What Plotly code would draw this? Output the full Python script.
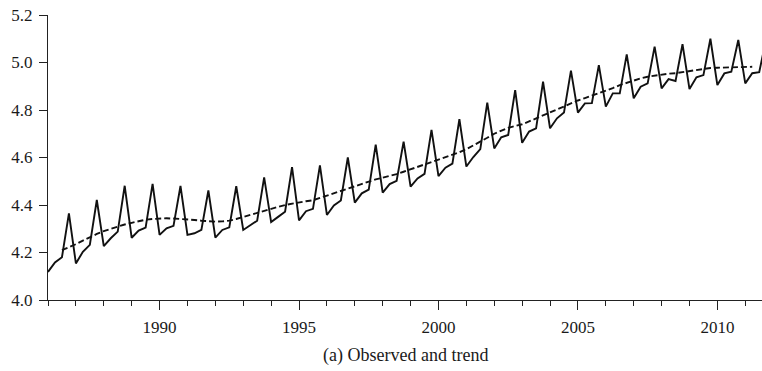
import plotly.graph_objects as go

start_year = 1986
# Observed quarterly series, 1986Q1 .. 2011Q4
observed = [
    4.118, 4.158, 4.180, 4.365,
    4.154, 4.203, 4.232, 4.421,
    4.227, 4.260, 4.288, 4.481,
    4.262, 4.292, 4.305, 4.489,
    4.274, 4.302, 4.312, 4.480,
    4.274, 4.281, 4.295, 4.461,
    4.263, 4.295, 4.306, 4.479,
    4.295, 4.316, 4.334, 4.516,
    4.328, 4.350, 4.372, 4.559,
    4.335, 4.374, 4.384, 4.567,
    4.358, 4.398, 4.419, 4.600,
    4.410, 4.449, 4.465, 4.654,
    4.452, 4.488, 4.502, 4.667,
    4.477, 4.512, 4.531, 4.716,
    4.522, 4.557, 4.574, 4.761,
    4.562, 4.602, 4.635, 4.831,
    4.638, 4.685, 4.695, 4.884,
    4.662, 4.709, 4.723, 4.919,
    4.723, 4.765, 4.789, 4.966,
    4.789, 4.828, 4.829, 4.989,
    4.814, 4.870, 4.870, 5.034,
    4.849, 4.898, 4.912, 5.067,
    4.891, 4.930, 4.922, 5.077,
    4.888, 4.938, 4.947, 5.100,
    4.905, 4.954, 4.961, 5.095,
    4.912, 4.955, 4.959, 5.100,
]
# Trend quarterly series, 1986Q3 .. 2011Q2
trend_start_offset = 2
trend = [
    4.210, 4.222,
    4.235, 4.250, 4.265, 4.278,
    4.290, 4.300, 4.310, 4.318,
    4.325, 4.332, 4.338, 4.341,
    4.343, 4.344, 4.343, 4.342,
    4.340, 4.337, 4.334, 4.331,
    4.330, 4.331, 4.334, 4.341,
    4.350, 4.357, 4.365, 4.374,
    4.383, 4.392, 4.400, 4.406,
    4.412, 4.416, 4.420, 4.430,
    4.440, 4.450, 4.460, 4.470,
    4.480, 4.490, 4.500, 4.508,
    4.515, 4.522, 4.530, 4.540,
    4.550, 4.560, 4.570, 4.580,
    4.590, 4.600, 4.610, 4.622,
    4.635, 4.650, 4.665, 4.683,
    4.700, 4.713, 4.725, 4.733,
    4.740, 4.752, 4.765, 4.778,
    4.790, 4.802, 4.815, 4.828,
    4.840, 4.850, 4.860, 4.870,
    4.880, 4.892, 4.905, 4.915,
    4.925, 4.933, 4.940, 4.945,
    4.950, 4.953, 4.955, 4.960,
    4.965, 4.970, 4.975, 4.977,
    4.978, 4.979, 4.980, 4.981,
    4.982, 4.982,
]
x_ticks = [1990, 1995, 2000, 2005, 2010]
y_ticks = [4.0, 4.2, 4.4, 4.6, 4.8, 5.0, 5.2]
title_text = "(a) Observed and trend"

x_obs = [start_year + i * 0.25 for i in range(len(observed))]
x_trend = [start_year + (i + trend_start_offset) * 0.25 for i in range(len(trend))]

font_family = "'Liberation Serif', 'Times New Roman', 'DejaVu Serif', serif"
axis_color = "#222222"
text_color = "#1a1a1a"

fig = go.Figure()
fig.add_trace(go.Scatter(x=x_obs, y=observed, mode="lines",
                         line=dict(color="#111111", width=1.9), showlegend=False))
fig.add_trace(go.Scatter(x=x_trend, y=trend, mode="lines",
                         line=dict(color="#111111", width=1.9, dash="6px,3px"),
                         showlegend=False))

fig.update_layout(
    width=762, height=371,
    margin=dict(l=48, r=0, t=15, b=71),
    paper_bgcolor="white", plot_bgcolor="white",
    font=dict(family=font_family, size=17, color=text_color),
    xaxis=dict(range=[1986.0, 2011.6], tickmode="array", tickvals=x_ticks,
               ticktext=[str(v) for v in x_ticks],
               showgrid=False, zeroline=False, showline=True, linecolor=axis_color,
               linewidth=1, ticks="outside", ticklen=9, tickcolor=axis_color,
               ticklabelstandoff=3,
               tickfont=dict(family=font_family, size=17, color=text_color),
               minor=dict(dtick=1, tick0=1986, ticks="outside", ticklen=5,
                          tickcolor=axis_color, showgrid=False)),
    yaxis=dict(range=[4.0, 5.2], tickmode="array", tickvals=y_ticks,
               ticktext=[f"{v:.1f}" for v in y_ticks],
               showgrid=False, zeroline=False, showline=True, linecolor=axis_color,
               linewidth=1, ticks="outside", ticklen=8, tickcolor=axis_color,
               ticklabelstandoff=3,
               tickfont=dict(family=font_family, size=17, color=text_color)),
)
fig.add_annotation(text=title_text, xref="paper", yref="paper", x=0.5, y=-0.195,
                   yanchor="middle", xanchor="center", showarrow=False,
                   font=dict(family=font_family, size=18, color=text_color))

fig.write_html("out.html")
